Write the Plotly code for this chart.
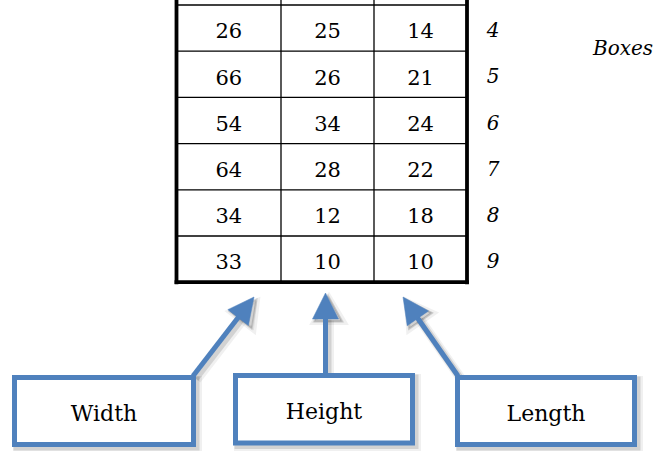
import math
import plotly.graph_objects as go

# ---------------- data ----------------
box_numbers = [4, 5, 6, 7, 8, 9]
width_vals = [26, 66, 54, 64, 34, 33]
height_vals = [25, 26, 34, 28, 12, 10]
length_vals = [14, 21, 24, 22, 18, 10]
column_labels = ["Width", "Height", "Length"]
side_title = "Boxes"

# ---------------- layout geometry (pixels) ----------------
W, H = 657, 451
col_edges = [176.5, 281, 374, 467]
row_top, row_h = 5, 46.2
n_rows = len(box_numbers)
row_edges = [row_top + i * row_h for i in range(n_rows + 1)]
col_centers = [(col_edges[i] + col_edges[i + 1]) / 2 for i in range(3)]
row_centers = [(row_edges[i] + row_edges[i + 1]) / 2 for i in range(n_rows)]

BLUE = "#4F81BD"
SERIF = "DejaVu Serif"

shapes = []
# table inner lines
for y in row_edges[:-1]:
    shapes.append(dict(type="line", x0=col_edges[0], x1=col_edges[-1], y0=y, y1=y,
                       line=dict(color="black", width=1.3)))
for x in col_edges[1:-1]:
    shapes.append(dict(type="line", x0=x, x1=x, y0=0, y1=row_edges[-1],
                       line=dict(color="black", width=1.3)))
# thick outer lines
for x in (col_edges[0], col_edges[-1]):
    shapes.append(dict(type="line", x0=x, x1=x, y0=0, y1=row_edges[-1] + 2,
                       line=dict(color="black", width=3.8)))
shapes.append(dict(type="line", x0=col_edges[0] - 1.9, x1=col_edges[-1] + 1.9,
                   y0=row_edges[-1], y1=row_edges[-1], line=dict(color="black", width=3.8)))

# label boxes
label_boxes = [(14.5, 193.5, 377.5, 444.5), (235.5, 412.5, 375.5, 443), (457.5, 634.5, 377.5, 444.5)]
# arrows: (start, tip)
arrows = [((193, 376), (254, 297)), ((325.5, 375), (325.5, 293)), ((458, 376), (403, 297))]
HEAD_L, HEAD_HW, SHAFT_W = 26, 13, 5


def arrow_shapes(start, tip, color, dx=0, dy=0, extra=0):
    sx, sy = start[0] + dx, start[1] + dy
    tx, ty = tip[0] + dx, tip[1] + dy
    vx, vy = tx - sx, ty - sy
    L = math.hypot(vx, vy)
    ux, uy = vx / L, vy / L
    bx, by = tx - ux * HEAD_L, ty - uy * HEAD_L
    px, py = -uy, ux
    hw = HEAD_HW + extra / 2
    p1 = (bx + px * hw, by + py * hw)
    p2 = (bx - px * hw, by - py * hw)
    out = [dict(type="line", x0=sx, y0=sy, x1=bx + ux * 2, y1=by + uy * 2,
                line=dict(color=color, width=SHAFT_W + extra)),
           dict(type="path",
                path=f"M {tx},{ty} L {p1[0]},{p1[1]} L {p2[0]},{p2[1]} Z",
                fillcolor=color, line=dict(color=color, width=max(extra, 0.5)))]
    return out


# shadows
for (dx, dy, ex, col) in [(3.5, 3.5, 5, "rgba(0,0,0,0.06)"), (2.5, 2.5, 2, "rgba(0,0,0,0.12)")]:
    for (x0, x1, y0, y1) in label_boxes:
        shapes.append(dict(type="rect", x0=x0 + dx, x1=x1 + dx, y0=y0 + dy, y1=y1 + dy,
                           line=dict(color=col, width=5 + ex)))
    for s, t in arrows:
        shapes += arrow_shapes(s, t, col, dx, dy, ex)

for (x0, x1, y0, y1) in label_boxes:
    shapes.append(dict(type="rect", x0=x0, x1=x1, y0=y0, y1=y1, fillcolor="white",
                       line=dict(color=BLUE, width=5)))
for s, t in arrows:
    shapes += arrow_shapes(s, t, BLUE)

for sh in shapes:
    sh.setdefault("xref", "x")
    sh.setdefault("yref", "y")
    sh["layer"] = "below"

fig = go.Figure()

# cell values
cols = [width_vals, height_vals, length_vals]
xs, ys, ts = [], [], []
for ci, vals in enumerate(cols):
    for ri, v in enumerate(vals):
        xs.append(col_centers[ci])
        ys.append(row_centers[ri] + 5)
        ts.append(str(v))
fig.add_trace(go.Scatter(x=xs, y=ys, text=ts, mode="text", hoverinfo="skip",
                         textfont=dict(family=SERIF, size=21, color="black")))

# row labels (box numbers)
fig.add_trace(go.Scatter(x=[493] * n_rows, y=[c + 4 for c in row_centers],
                         text=[f"<i>{b}</i>" for b in box_numbers], mode="text", hoverinfo="skip",
                         textfont=dict(family=SERIF, size=20, color="black")))

# side title
fig.add_trace(go.Scatter(x=[623], y=[50], text=[f"<i>{side_title}</i>"], mode="text",
                         hoverinfo="skip", textfont=dict(family=SERIF, size=20, color="black")))

# box labels
fig.add_trace(go.Scatter(x=[(b[0] + b[1]) / 2 for b in label_boxes],
                         y=[(b[2] + b[3]) / 2 + 4.5 for b in label_boxes],
                         text=column_labels, mode="text", hoverinfo="skip",
                         textfont=dict(family=SERIF, size=22, color="black")))

fig.update_layout(
    width=W, height=H, margin=dict(l=0, r=0, t=0, b=0),
    paper_bgcolor="white", plot_bgcolor="white", showlegend=False,
    shapes=shapes,
    xaxis=dict(range=[0, W], visible=False, fixedrange=True),
    yaxis=dict(range=[H, 0], visible=False, fixedrange=True),
)
fig.write_html("out.html", config={"displayModeBar": False},
               post_script="document.body.style.margin='0px';document.body.style.overflow='hidden';")
